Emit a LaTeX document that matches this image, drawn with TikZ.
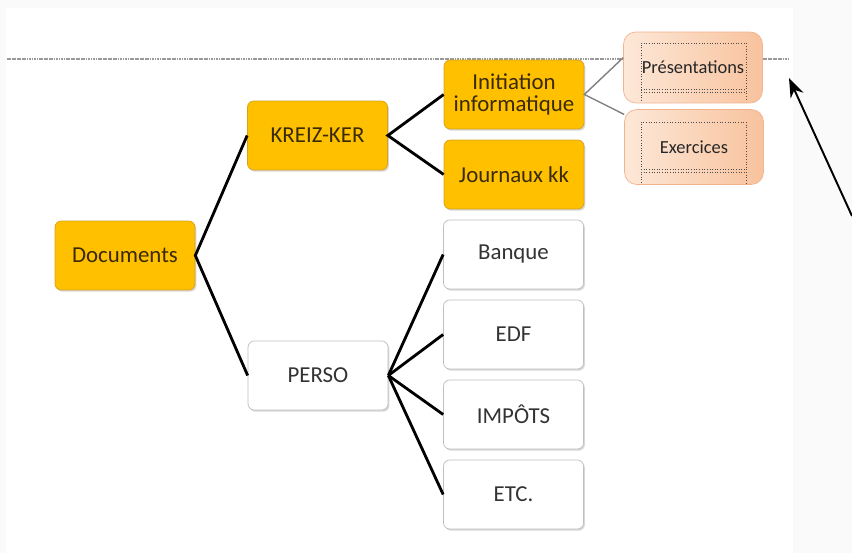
\documentclass[tikz,border=0pt]{standalone}
\usepackage{fontspec}
\setmainfont{Carlito}
\usetikzlibrary{arrows.meta,shadows}
\definecolor{boxorange}{HTML}{FFC000}
\definecolor{orangeedge}{HTML}{D9A21B}
\definecolor{orangetext}{HTML}{3A2A08}
\definecolor{peachlight}{HTML}{FDE8D8}
\definecolor{peachdark}{HTML}{F8C29D}
\definecolor{peachedge}{HTML}{F2B48E}
\definecolor{paper}{HTML}{FAFAFA}

\begin{document}
\begin{tikzpicture}[x=0.02cm,y=-0.02cm,
	box/.style={rectangle,rounded corners=3.5pt,minimum width=2.8cm,minimum height=1.38cm,align=center,inner sep=2pt,
		font=\fontsize{13}{15}\selectfont,drop shadow={shadow xshift=0.8pt,shadow yshift=-1pt,opacity=0.3}},
	orangebox/.style={box,fill=boxorange,draw=orangeedge,text=orangetext},
	whitebox/.style={box,fill=white,draw=gray!50,text=black!80},
	peachbox/.style={rectangle,rounded corners=7pt,minimum width=2.78cm,inner sep=2pt,left color=peachlight,right color=peachdark,
		draw=peachedge,text=black!85,font=\fontsize{10.5}{12}\selectfont},
	trunk/.style={line width=1.6pt,black},
	twig/.style={line width=0.8pt,gray}]
		\useasboundingbox (0,0) rectangle (852,553);
		\fill[paper] (0,0) rectangle (852,553);
		\fill[white] (6,8) rectangle (793,553);
% guide line
		\draw[gray!80,line width=0.8pt,dash pattern=on 1pt off 0.4pt] (7,59) -- (623,59);
		\draw[gray!80,line width=0.8pt,dash pattern=on 1pt off 0.4pt] (763,59) -- (790,59);
% boxes
\node[orangebox] (docs) at (125,255.5) {Documents};
\node[orangebox] (kreiz) at (317.5,135.5) {KREIZ-KER};
\node[whitebox] (perso) at (318,375.5) {PERSO};
\node[orangebox] (init) at (514,94.5) {Initiation\\[-2pt]informatique};
\node[orangebox] (journ) at (514,174.5) {Journaux kk};
\node[whitebox] (banque) at (513.5,254.5) {Banque};
\node[whitebox] (edf) at (513.5,334.5) {EDF};
\node[whitebox] (impots) at (513.5,414.5) {IMPÔTS};
\node[whitebox] (etc) at (513.5,494.5) {ETC.};
\node[peachbox,minimum height=1.42cm] (pres) at (693,67.5) {Présentations};
\node[peachbox,minimum height=1.5cm] (exo) at (694,147) {Exercices};
% dotted frames in the small boxes
		\draw[black!70,densely dotted,line width=0.5pt] (641,101) -- (641,43) -- (746,43) -- (746,101);
		\draw[black!70,densely dotted,line width=0.5pt] (641,89) -- (746,89) (641,92) -- (746,92);
		\draw[black!70,densely dotted,line width=0.5pt] (641,183) -- (641,122) -- (746,122) -- (746,183);
		\draw[black!70,densely dotted,line width=0.5pt] (641,169) -- (746,169) (641,172) -- (746,172);
% connectors
\draw[trunk] (kreiz.west) -- (docs.east) -- (perso.west);
\draw[trunk] (init.west) -- (kreiz.east) -- (journ.west);
\foreach \c in {banque,edf,impots,etc}
	\draw[trunk] (perso.east) -- (\c.west);
\draw[twig] (pres.172) -- (init.east) -- (exo.155);
% pointer
\coordinate (tail) at (852,216);
\coordinate (tip) at (789,78);
\draw[line width=1.1pt,-{Stealth[length=11pt,width=8pt]}] (tail) -- (tip);
\end{tikzpicture}
\end{document}
